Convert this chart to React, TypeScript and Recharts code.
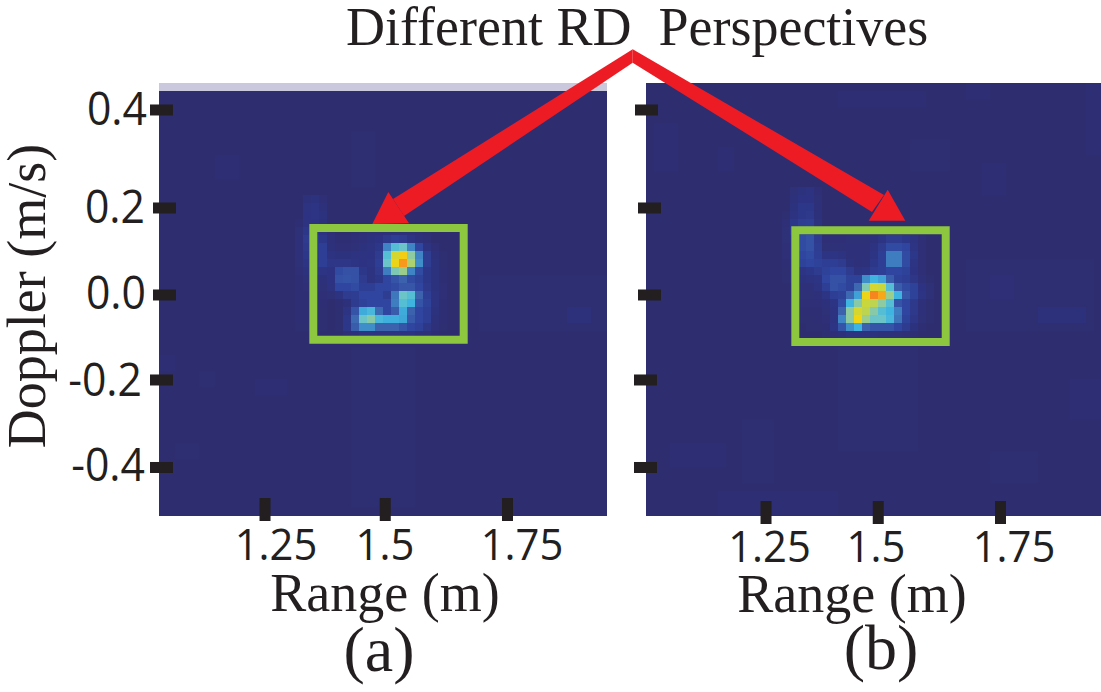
import { ScatterChart, Scatter, XAxis, YAxis, ReferenceArea } from 'recharts';

const PAGE_W = 1101;
const PAGE_H = 692;
const CELL = 8;
const SERIF = '"Liberation Serif", serif';
const SANS = '"Open Sans", sans-serif';
const INK = '#231f20';
const RED = '#ed1c24';

const rangeTicks = [1.25, 1.5, 1.75];
const rangeTickLabels = ['1.25', '1.5', '1.75'];
const dopplerTicks = [0.4, 0.2, 0, -0.2, -0.4];
const dopplerTickLabels = ['0.4', '0.2', '0.0', '-0.2', '-0.4'];

// hot part of the range-doppler map, intensity 0-100, columns 17..36
const hotStartCol = 17;
const hotRowsA = [
  [0, 6, 7, 3, 0, 0, 0, 0, 0, 0, 0, 0, 0, 0, 0, 0, 0, 0, 0, 0],
  [0, 8, 10, 6, 0, 0, 0, 0, 0, 0, 0, 0, 0, 0, 0, 0, 0, 0, 0, 0],
  [0, 9, 10, 7, 0, 0, 0, 0, 0, 0, 0, 0, 0, 0, 0, 0, 0, 0, 0, 0],
  [2, 8, 9, 6, 0, 0, 0, 0, 0, 0, 0, 0, 0, 0, 0, 0, 0, 0, 0, 0],
  [4, 12, 12, 8, 3, 0, 0, 2, 3, 4, 5, 6, 6, 6, 5, 3, 1, 0, 0, 0],
  [5, 14, 14, 12, 5, 2, 2, 3, 5, 7, 9, 13, 16, 14, 10, 6, 3, 0, 0, 0],
  [5, 13, 14, 16, 6, 3, 3, 4, 7, 8, 12, 40, 55, 60, 40, 20, 8, 3, 0, 0],
  [5, 12, 13, 16, 8, 7, 7, 8, 8, 9, 14, 55, 82, 88, 70, 40, 15, 6, 1, 0],
  [4, 10, 12, 16, 11, 11, 11, 10, 9, 10, 16, 60, 86, 95, 75, 42, 15, 7, 1, 0],
  [3, 7, 9, 10, 9, 22, 24, 24, 12, 8, 14, 38, 65, 72, 40, 22, 12, 7, 2, 0],
  [2, 4, 5, 6, 9, 24, 25, 24, 14, 8, 12, 20, 25, 30, 22, 18, 12, 7, 2, 0],
  [2, 3, 3, 4, 8, 20, 20, 22, 16, 16, 20, 20, 22, 26, 26, 20, 13, 7, 3, 0],
  [2, 2, 2, 3, 4, 8, 14, 15, 20, 20, 20, 15, 36, 60, 55, 30, 16, 8, 3, 0],
  [2, 2, 1, 2, 0, 2, 6, 14, 18, 20, 20, 20, 38, 55, 50, 25, 18, 8, 2, 0],
  [2, 2, 1, 1, 0, 1, 10, 25, 48, 52, 32, 20, 28, 48, 30, 20, 16, 7, 2, 0],
  [2, 2, 1, 1, 0, 1, 12, 32, 60, 68, 52, 49, 49, 47, 27, 20, 16, 6, 2, 0],
  [1, 1, 1, 1, 0, 1, 12, 28, 42, 42, 30, 30, 30, 25, 20, 17, 11, 5, 1, 0],
  [0, 0, 0, 0, 0, 0, 3, 6, 8, 8, 8, 8, 8, 8, 8, 6, 4, 2, 0, 0],
];
const hotStartRowA = 13;

const hotRowsB = [
  [0, 4, 7, 8, 3, 0, 0, 0, 0, 0, 0, 0, 0, 0, 0, 0, 0, 0, 0, 0],
  [0, 6, 9, 9, 4, 0, 0, 0, 0, 0, 0, 0, 0, 0, 0, 0, 0, 0, 0, 0],
  [0, 7, 12, 12, 5, 0, 0, 0, 0, 0, 0, 0, 0, 0, 0, 0, 0, 0, 0, 0],
  [1, 8, 12, 13, 6, 0, 0, 0, 0, 0, 0, 0, 0, 0, 0, 0, 0, 0, 0, 0],
  [3, 12, 15, 16, 7, 0, 0, 0, 0, 0, 0, 0, 0, 0, 0, 0, 0, 0, 0, 0],
  [4, 14, 18, 17, 8, 0, 0, 0, 0, 0, 0, 0, 0, 0, 0, 0, 0, 0, 0, 0],
  [4, 10, 22, 24, 14, 3, 3, 3, 4, 4, 4, 6, 10, 14, 14, 12, 8, 3, 0, 0],
  [3, 8, 22, 24, 15, 4, 4, 4, 5, 5, 5, 8, 14, 22, 22, 20, 10, 3, 0, 0],
  [3, 8, 20, 22, 16, 10, 10, 8, 5, 5, 5, 10, 16, 38, 38, 22, 12, 3, 0, 0],
  [2, 6, 18, 20, 18, 16, 16, 14, 7, 5, 6, 12, 16, 38, 38, 22, 10, 3, 0, 0],
  [1, 5, 10, 12, 14, 18, 20, 20, 14, 8, 10, 14, 16, 20, 20, 18, 9, 3, 0, 0],
  [1, 4, 7, 8, 10, 20, 24, 24, 18, 18, 42, 50, 46, 28, 18, 16, 11, 5, 1, 0],
  [0, 2, 5, 5, 8, 16, 24, 22, 18, 32, 66, 82, 80, 55, 28, 22, 18, 9, 4, 0],
  [0, 2, 4, 4, 5, 10, 16, 18, 32, 46, 86, 97, 93, 72, 50, 26, 18, 10, 4, 0],
  [0, 2, 3, 3, 3, 6, 10, 22, 50, 68, 80, 78, 70, 55, 25, 20, 13, 5, 1, 0],
  [0, 1, 2, 2, 2, 4, 8, 30, 70, 82, 78, 68, 55, 50, 38, 20, 13, 5, 1, 0],
  [0, 1, 1, 1, 2, 3, 8, 40, 70, 87, 72, 60, 60, 52, 35, 18, 11, 4, 1, 0],
  [0, 0, 0, 1, 1, 2, 10, 25, 42, 50, 30, 25, 25, 25, 20, 14, 7, 2, 0, 0],
  [0, 0, 0, 0, 0, 1, 3, 6, 8, 8, 8, 7, 6, 6, 4, 3, 2, 0, 0, 0],
];
const hotStartRowB = 13;

// faint clutter outside the hot part: [col, row, cols, rows, intensity]
const clutterA = [
  [7, 8, 3, 3, 2],
  [0, 33, 2, 2, 2],
  [5, 35, 2, 2, 1.5],
  [12, 36, 4, 2, 2],
  [2, 44, 3, 2, 1.5],
  [24, 5, 3, 7, 1],
  [24, 32, 8, 20, 1],
  [40, 23, 16, 7, 1.5],
  [51, 27, 3, 2, 6],
];
const clutterB = [
  [24, 1, 11, 2, 2],
  [40, 0, 3, 2, 2],
  [55, 0, 2, 9, 2],
  [1, 5, 3, 6, 2],
  [9, 8, 2, 3, 2],
  [33, 7, 5, 4, 1.5],
  [42, 10, 3, 4, 2],
  [40, 22, 16, 9, 1],
  [49, 28, 6, 2, 6],
  [43, 24, 3, 3, 3],
  [3, 45, 7, 3, 2],
  [12, 42, 4, 8, 1.5],
  [24, 33, 10, 13, 1.5],
  [53, 37, 4, 5, 2],
  [9, 51, 15, 3, 2],
  [43, 46, 6, 4, 1.5],
];

const colorStops: [number, number[]][] = [
  [0, [46, 45, 112]],
  [10, [45, 52, 132]],
  [20, [47, 69, 159]],
  [30, [60, 98, 174]],
  [40, [63, 133, 197]],
  [50, [63, 180, 224]],
  [60, [107, 197, 200]],
  [70, [143, 203, 160]],
  [80, [201, 214, 60]],
  [87, [242, 213, 18]],
  [95, [248, 152, 29]],
  [100, [242, 101, 34]],
];

function heatColor(v: number) {
  for (let i = 1; i < colorStops.length; i++) {
    const [hi, c1] = colorStops[i];
    if (v <= hi) {
      const [lo, c0] = colorStops[i - 1];
      const t = (v - lo) / (hi - lo);
      const ch = c0.map((c, k) => Math.round(c + (c1[k] - c) * t));
      return `rgb(${ch[0]},${ch[1]},${ch[2]})`;
    }
  }
  return 'rgb(242,101,34)';
}

const HeatCell = (props: any) => (
  <rect
    x={props.cx - CELL / 2}
    y={props.cy - CELL / 2}
    width={CELL}
    height={CELL}
    fill={heatColor(props.payload.intensity)}
    shapeRendering="crispEdges"
  />
);

type Panel = {
  name: string;
  plotLeft: number;
  plotRight: number;
  rangeDomain: number[];
  dopplerDomain: number[];
  rangeStep: number;
  dopplerStep: number;
  gridTop: number;
  box: number[];
  rangeMarkDx: number[];
  rangeLabelX: number[];
  rangeLabelY: number;
  rangeMarkTop: number;
  dopplerMarkX: number[];
  rangeTitleX: number;
  rangeTitleY: number;
  caption: string;
  captionX: number;
  captionY: number;
  hotRows: number[][];
  hotStartRow: number;
  clutter: number[][];
  strip: boolean;
};

const DOPPLER_TOP = 0.4603;
const DOPPLER_BOTTOM = -0.5073;

const panelA: Panel = {
  name: 'a',
  plotLeft: 159,
  plotRight: 607,
  rangeDomain: [1.0314, 1.9552],
  dopplerDomain: [DOPPLER_BOTTOM, DOPPLER_TOP],
  rangeStep: 8 / 485,
  dopplerStep: 8 / 447.5,
  gridTop: 0.4425,
  box: [1.3496, 1.6597, -0.1133, 0.1363],
  rangeMarkDx: [0, -1, 0],
  rangeLabelX: [276, 385, 522],
  rangeLabelY: 560,
  rangeMarkTop: 498,
  dopplerMarkX: [150, 153, 153, 150, 150],
  rangeTitleX: 385,
  rangeTitleY: 611,
  caption: '(a)',
  captionX: 379,
  captionY: 671,
  hotRows: hotRowsA,
  hotStartRow: hotStartRowA,
  clutter: clutterA,
  strip: true,
};

const panelB: Panel = {
  name: 'b',
  plotLeft: 646,
  plotRight: 1101,
  rangeDomain: [0.9941, 1.9643],
  dopplerDomain: [DOPPLER_BOTTOM, DOPPLER_TOP],
  rangeStep: 8 / 469,
  dopplerStep: 8 / 447.5,
  gridTop: DOPPLER_TOP,
  box: [1.3125, 1.6332, -0.1184, 0.1312],
  rangeMarkDx: [0, -5, 0],
  rangeLabelX: [769.5, 876, 1014],
  rangeLabelY: 562,
  rangeMarkTop: 501,
  dopplerMarkX: [635, 638, 638, 634, 634],
  rangeTitleX: 852,
  rangeTitleY: 612,
  caption: '(b)',
  captionX: 881,
  captionY: 669,
  hotRows: hotRowsB,
  hotStartRow: hotStartRowB,
  clutter: clutterB,
  strip: false,
};

// the hand placed tick marks of the figure do not sit exactly on the linear scale
const dopplerMarkDy = [0, 8.5, 6, 1.5, -0.5];
const dopplerLabelRight = [147, 145, 146, 142, 145];
const dopplerLabelBase = [125, 223, 309, 396, 481];

function buildCells(panel: Panel) {
  const cell = (col: number, row: number, intensity: number) => ({
    range: panel.rangeDomain[0] + (col + 0.5) * panel.rangeStep,
    doppler: panel.gridTop - (row + 0.5) * panel.dopplerStep,
    intensity,
  });
  const cells: { range: number; doppler: number; intensity: number }[] = [];
  panel.clutter.forEach(([col, row, w, h, v]) => {
    for (let r = row; r < row + h; r++) {
      for (let c = col; c < col + w; c++) cells.push(cell(c, r, v));
    }
  });
  panel.hotRows.forEach((values, r) => {
    values.forEach((v, c) => {
      if (v > 0) cells.push(cell(hotStartCol + c, panel.hotStartRow + r, v));
    });
  });
  return cells;
}

function RdPanel({ panel }: { panel: Panel }) {
  const RangeTick = (props: any) => {
    const i = rangeTicks.indexOf(props.payload.value);
    return (
      <g>
        <rect x={props.x + panel.rangeMarkDx[i] - 5.5} y={panel.rangeMarkTop} width={11} height={23} fill={INK} />
        <text
          transform={`translate(${panel.rangeLabelX[i]},${panel.rangeLabelY}) scale(0.95,1)`}
          textAnchor="middle"
          fontFamily={SANS}
          fontSize={44}
          fill={INK}
        >
          {rangeTickLabels[i]}
        </text>
      </g>
    );
  };

  const DopplerTick = (props: any) => {
    const i = dopplerTicks.indexOf(props.payload.value);
    return (
      <g>
        <rect x={panel.dopplerMarkX[i]} y={props.y + dopplerMarkDy[i] - 5.5} width={23} height={11} fill={INK} />
        {panel.name === 'a' && (
          <text
            transform={`translate(${dopplerLabelRight[i]},${dopplerLabelBase[i]}) scale(0.95,1)`}
            textAnchor="end"
            fontFamily={SANS}
            fontSize={45}
            fill={INK}
          >
            {dopplerTickLabels[i]}
          </text>
        )}
      </g>
    );
  };

  const rangeTitle = () => (
    <text x={panel.rangeTitleX} y={panel.rangeTitleY} textAnchor="middle" fontFamily={SERIF} fontSize={54} fill={INK}>
      Range (m)
    </text>
  );

  const dopplerTitle = () => (
    <text
      transform="translate(45,296) rotate(-90)"
      textAnchor="middle"
      fontFamily={SERIF}
      fontSize={54}
      fill={INK}
    >
      Doppler (m/s)
    </text>
  );

  return (
    <div style={{ position: 'absolute', left: 0, top: 0 }}>
      <ScatterChart
        width={PAGE_W}
        height={PAGE_H}
        margin={{ top: 83, right: PAGE_W - panel.plotRight, bottom: 0, left: 0 }}
      >
        <XAxis
          type="number"
          dataKey="range"
          domain={panel.rangeDomain}
          ticks={rangeTicks}
          height={PAGE_H - 516}
          axisLine={false}
          tickLine={false}
          allowDataOverflow
          interval={0}
          tick={RangeTick}
          label={{ value: 'Range (m)', content: rangeTitle }}
        />
        <YAxis
          type="number"
          dataKey="doppler"
          domain={panel.dopplerDomain}
          ticks={dopplerTicks}
          width={panel.plotLeft}
          axisLine={false}
          tickLine={false}
          allowDataOverflow
          interval={0}
          tick={DopplerTick}
          label={panel.name === 'a' ? { value: 'Doppler (m/s)', content: dopplerTitle } : undefined}
        />
        <ReferenceArea
          x1={panel.rangeDomain[0]}
          x2={panel.rangeDomain[1]}
          y1={panel.dopplerDomain[0]}
          y2={panel.gridTop}
          fill="#2e2d70"
          fillOpacity={1}
          stroke="none"
        />
        {panel.strip && (
          <ReferenceArea
            x1={panel.rangeDomain[0]}
            x2={panel.rangeDomain[1]}
            y1={panel.gridTop}
            y2={panel.dopplerDomain[1]}
            fill="#c9c8dc"
            fillOpacity={1}
            stroke="none"
          />
        )}
        <Scatter data={buildCells(panel)} shape={HeatCell} isAnimationActive={false} />
        <ReferenceArea
          x1={panel.box[0]}
          x2={panel.box[1]}
          y1={panel.box[2]}
          y2={panel.box[3]}
          fill="none"
          stroke="#8dc63f"
          strokeWidth={8}
          zIndex={1000}
        />
      </ScatterChart>
    </div>
  );
}

export default function App() {
  return (
    <div style={{ position: 'absolute', left: 0, top: 0, width: PAGE_W, height: PAGE_H, background: '#fff', overflow: 'hidden' }}>
      <RdPanel panel={panelA} />
      <RdPanel panel={panelB} />
      <svg width={PAGE_W} height={PAGE_H} style={{ position: 'absolute', left: 0, top: 0 }}>
        <text x={346} y={45} fontFamily={SERIF} fontSize={54} fill={INK} style={{ whiteSpace: 'pre' }}>
          {'Different RD  Perspectives'}
        </text>
        {/* both arms get wider towards their heads */}
        <polygon points="632.7,49.3 632.7,62.7 404,216 393,199" fill={RED} />
        <polygon points="632.7,49.3 632.7,62.7 872,212 884,195" fill={RED} />
        <polygon points="372.3,224 388.3,192 409,223.3" fill={RED} />
        <polygon points="887.7,189.7 868.7,220.7 905.3,220.7" fill={RED} />
        <text x={panelA.captionX} y={panelA.captionY} textAnchor="middle" fontFamily={SERIF} fontSize={64} fill={INK}>
          {panelA.caption}
        </text>
        <text x={panelB.captionX} y={panelB.captionY} textAnchor="middle" fontFamily={SERIF} fontSize={64} fill={INK}>
          {panelB.caption}
        </text>
      </svg>
    </div>
  );
}
